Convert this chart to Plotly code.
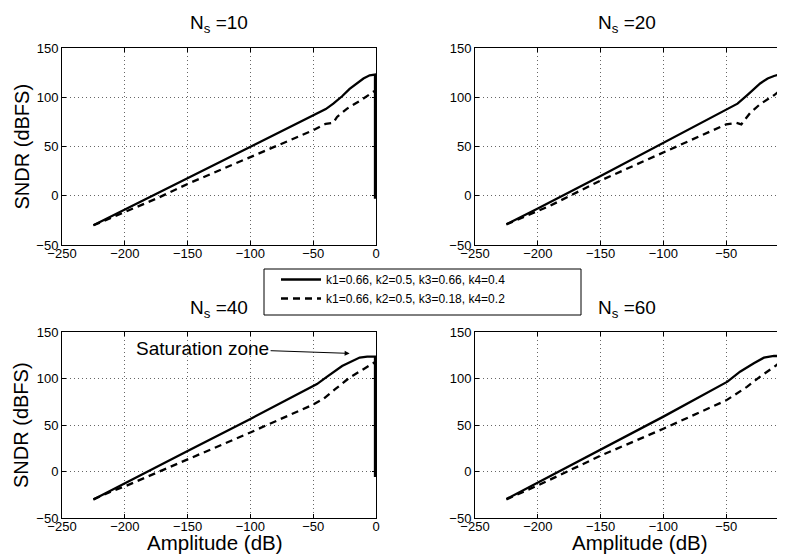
import plotly.graph_objects as go

# ---------------- data ----------------
amp_ns10_a = [-225, -200, -150, -100, -46, -40, -34, -27, -21, -15, -10, -5, -0.8, -0.8]
sndr_ns10_a = [-30, -14, 18, 50, 84, 88, 93.5, 101, 108.5, 114, 119, 122.3, 123, -3]
amp_ns10_b = [-225, -210, -200, -190, -175, -150, -100, -50, -40, -34, -31, -23, -12, -3, -1]
sndr_ns10_b = [-30, -22, -16, -11, -3, 12, 39, 66.5, 73, 74, 80, 88.5, 97, 105, 106.5]

amp_ns20_a = [-225, -200, -150, -100, -50, -41, -33, -23, -17, -12, -7, -3]
sndr_ns20_a = [-29, -13, 20, 53.5, 87, 93.5, 102.5, 114, 119, 121.6, 123.3, 124]
amp_ns20_b = [-225, -200, -190, -150, -100, -50, -42, -38, -31, -23, -12, -3]
sndr_ns20_b = [-29, -15, -10, 15.5, 44, 72.5, 74, 72.5, 84, 93, 102, 111]

amp_ns40_a = [-225, -200, -150, -100, -47, -40, -34, -27, -20, -13, -7, -0.8, -0.8]
sndr_ns40_a = [-30, -12.5, 22, 56.5, 94, 101, 107, 113.5, 118, 122.5, 123.5, 123.5, -6]
amp_ns40_b = [-225, -210, -200, -150, -100, -50, -42, -32, -21, -10, -3, -1]
sndr_ns40_b = [-30, -21, -16, 13, 42, 72, 78, 89, 101, 110, 116, 117.5]

amp_ns60_a = [-225, -200, -150, -100, -49, -39, -28, -20, -12, -3]
sndr_ns60_a = [-29.6, -12, 24, 59, 96.6, 107.3, 116.3, 122.4, 124.2, 124.2]
amp_ns60_b = [-225, -200, -150, -100, -50, -41.5, -33.5, -23, -13.6, -4.3, -3]
sndr_ns60_b = [-30, -15, 17, 46, 76.5, 84, 91, 102, 111, 120, 121]

legend_labels = ["k1=0.66, k2=0.5, k3=0.66, k4=0.4", "k1=0.66, k2=0.5, k3=0.18, k4=0.2"]
panel_titles = ["N<sub>s</sub> =10", "N<sub>s</sub> =20", "N<sub>s</sub> =40", "N<sub>s</sub> =60"]
x_ticks = [-250, -200, -150, -100, -50, 0]
y_ticks = [-50, 0, 50, 100, 150]

# ---------------- layout helpers ----------------
OFF = 8                      # page body margin of the html page
W, H = 785 - OFF, 556 - OFF  # figure size so the figure fills the window
FONT = "Liberation Sans, Arial, Helvetica, sans-serif"

def px_x(p):
    return (p - OFF) / W

def px_y(p):
    return 1 - (p - OFF) / H

# screen-pixel boxes of plot areas (left, right, top, bottom)
boxes = [
    (62, 376, 48, 245),
    (475, 785, 48, 245),
    (62, 376, 332, 518),
    (475, 785, 332, 518),
]
x_ranges = [[-250, 0], [-250, -3.2], [-250, 0], [-250, -3.2]]

fig = go.Figure()

series = [
    (amp_ns10_a, sndr_ns10_a, amp_ns10_b, sndr_ns10_b),
    (amp_ns20_a, sndr_ns20_a, amp_ns20_b, sndr_ns20_b),
    (amp_ns40_a, sndr_ns40_a, amp_ns40_b, sndr_ns40_b),
    (amp_ns60_a, sndr_ns60_a, amp_ns60_b, sndr_ns60_b),
]

for i, (xa, ya, xb, yb) in enumerate(series):
    suffix = "" if i == 0 else str(i + 1)
    fig.add_trace(go.Scatter(
        x=xa, y=ya, mode="lines", xaxis="x" + suffix, yaxis="y" + suffix,
        line=dict(color="black", width=2.3), name=legend_labels[0],
        showlegend=(i == 0), legendrank=1,
    ))
    fig.add_trace(go.Scatter(
        x=xb, y=yb, mode="lines", xaxis="x" + suffix, yaxis="y" + suffix,
        line=dict(color="black", width=2.3, dash="7px,5px"), name=legend_labels[1],
        showlegend=(i == 0), legendrank=2,
    ))

layout = dict(
    template="none",
    width=W, height=H,
    margin=dict(l=0, r=0, t=0, b=0, autoexpand=False),
    paper_bgcolor="white", plot_bgcolor="white",
    font=dict(family=FONT, color="black"),
    showlegend=True,
)

for i, (l, r, t, b) in enumerate(boxes):
    suffix = "" if i == 0 else str(i + 1)
    right_col = i in (1, 3)
    xa = dict(
        domain=[px_x(l), min(1.0, px_x(r))], range=x_ranges[i],
        anchor="y" + suffix, automargin=False,
        tickvals=x_ticks, ticks="inside", ticklen=4, tickcolor="black",
        showline=True, linecolor="black", linewidth=1, mirror="ticks",
        showgrid=True, gridcolor="#666", gridwidth=1, griddash="1px,3px",
        zeroline=False, tickfont=dict(size=13, family=FONT),
        ticklabelstandoff=-4,
    )
    ya = dict(
        domain=[px_y(b), px_y(t)], range=[-50, 150],
        anchor="x" + suffix, automargin=False,
        tickvals=y_ticks, ticks="inside", ticklen=4, tickcolor="black",
        showline=True, linecolor="black", linewidth=1,
        mirror=False if right_col else "ticks",
        showgrid=True, gridcolor="#666", gridwidth=1, griddash="1px,3px",
        zeroline=False, tickfont=dict(size=13, family=FONT),
    )
    layout["xaxis" + suffix] = xa
    layout["yaxis" + suffix] = ya

fig.update_layout(**layout)

annotations = []
title_pos = [(219, 24), (627, 24), (219, 309), (627, 309)]
for (cx, cy), txt in zip(title_pos, panel_titles):
    annotations.append(dict(
        text=txt, x=px_x(cx), y=px_y(cy), xref="paper", yref="paper",
        xanchor="center", yanchor="middle", showarrow=False,
        font=dict(size=19, family=FONT),
    ))
for cy in (146.5, 425):
    annotations.append(dict(
        text="SNDR (dBFS)", x=px_x(21), y=px_y(cy), xref="paper", yref="paper",
        xanchor="center", yanchor="middle", textangle=-90, showarrow=False,
        font=dict(size=20, family=FONT),
    ))
for cx in (215, 640):
    annotations.append(dict(
        text="Amplitude (dB)", x=px_x(cx), y=px_y(542), xref="paper", yref="paper",
        xanchor="center", yanchor="middle", showarrow=False,
        font=dict(size=20.5, family=FONT),
    ))
annotations.append(dict(
    text="Saturation zone", x=-21, y=127, xref="x3", yref="y3",
    ax=-147, ay=-5, axref="pixel", ayref="pixel",
    showarrow=True, arrowhead=2, arrowsize=1, arrowwidth=1, arrowcolor="black",
    font=dict(size=19, family=FONT),
))
fig.update_layout(annotations=annotations)

# legend box
fig.add_shape(type="rect", xref="paper", yref="paper",
              x0=px_x(264), x1=px_x(581), y0=px_y(315), y1=px_y(269),
              line=dict(color="black", width=1), fillcolor="white", layer="above")
fig.update_layout(legend=dict(
    x=px_x(276), y=px_y(265), xanchor="left", yanchor="top",
    bgcolor="rgba(0,0,0,0)", borderwidth=0,
    font=dict(size=12, family=FONT), itemwidth=40, tracegroupgap=0,
))

fig.write_html("out.html")
